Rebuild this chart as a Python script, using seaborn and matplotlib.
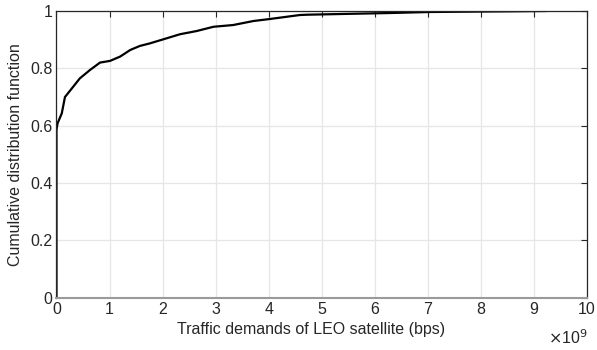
import matplotlib
matplotlib.use("Agg")
import matplotlib.pyplot as plt
import seaborn as sns
import pandas as pd

# CDF of per-satellite traffic demand (x in units of 1e9 bps)
demand_gbps = [0.0, 0.0, 0.02, 0.10, 0.16, 0.29, 0.44, 0.63, 0.82, 1.01, 1.20,
               1.39, 1.57, 1.76, 2.01, 2.33, 2.64, 2.96, 3.33, 3.71, 4.02,
               4.59, 4.72, 5.50, 6.30, 7.04, 8.00, 8.70, 9.25]
cdf = [0.0, 0.585, 0.608, 0.643, 0.700, 0.730, 0.765, 0.794, 0.820, 0.826,
       0.841, 0.864, 0.878, 0.887, 0.901, 0.919, 0.930, 0.945, 0.951, 0.965,
       0.972, 0.986, 0.987, 0.990, 0.993, 0.9965, 0.998, 0.999, 1.0]
x_ticks = [0, 1, 2, 3, 4, 5, 6, 7, 8, 9, 10]
y_ticks = [0, 0.2, 0.4, 0.6, 0.8, 1]
y_tick_labels = ["0", "0.2", "0.4", "0.6", "0.8", "1"]

df = pd.DataFrame({"demand": demand_gbps, "cdf": cdf})

sns.set_style("white")
plt.rcParams["font.family"] = ["Liberation Sans", "DejaVu Sans"]

fig = plt.figure(figsize=(5.97, 3.5), dpi=100)
ax = fig.add_axes([0.0946, 0.1494, 0.8886, 0.8192])

sns.lineplot(data=df, x="demand", y="cdf", ax=ax, color="black",
             linewidth=1.6, estimator=None, sort=False)

ax.set_xlim(0, 10)
ax.set_ylim(0, 1)
ax.set_xticks(x_ticks)
ax.set_xticklabels([str(t) for t in x_ticks])
ax.set_yticks(y_ticks)
ax.set_yticklabels(y_tick_labels)

ax.grid(True, color="#e6e6e6", linewidth=0.9)
ax.set_axisbelow(True)

ax.tick_params(direction="in", length=4, width=0.8, colors="#262626",
               labelsize=11.5, top=True, right=True, labelcolor="#262626", pad=3)

for side in ["top", "right", "left"]:
    ax.spines[side].set_color("#262626")
    ax.spines[side].set_linewidth(0.9)
ax.spines["bottom"].set_color("#9a9a9a")
ax.spines["bottom"].set_linewidth(1.5)

ax.set_xlabel("Traffic demands of LEO satellite (bps)", fontsize=11.5,
              color="#262626")
ax.xaxis.set_label_coords(0.48, -0.085)
ax.set_ylabel("Cumulative distribution function", fontsize=11.5,
              color="#262626", labelpad=5)

fig.text(0.984, 0.008, r"$\times$10$^9$", fontsize=11.5, color="#262626",
         ha="right", va="bottom")

fig.savefig("out.png", dpi=100, facecolor="white")
